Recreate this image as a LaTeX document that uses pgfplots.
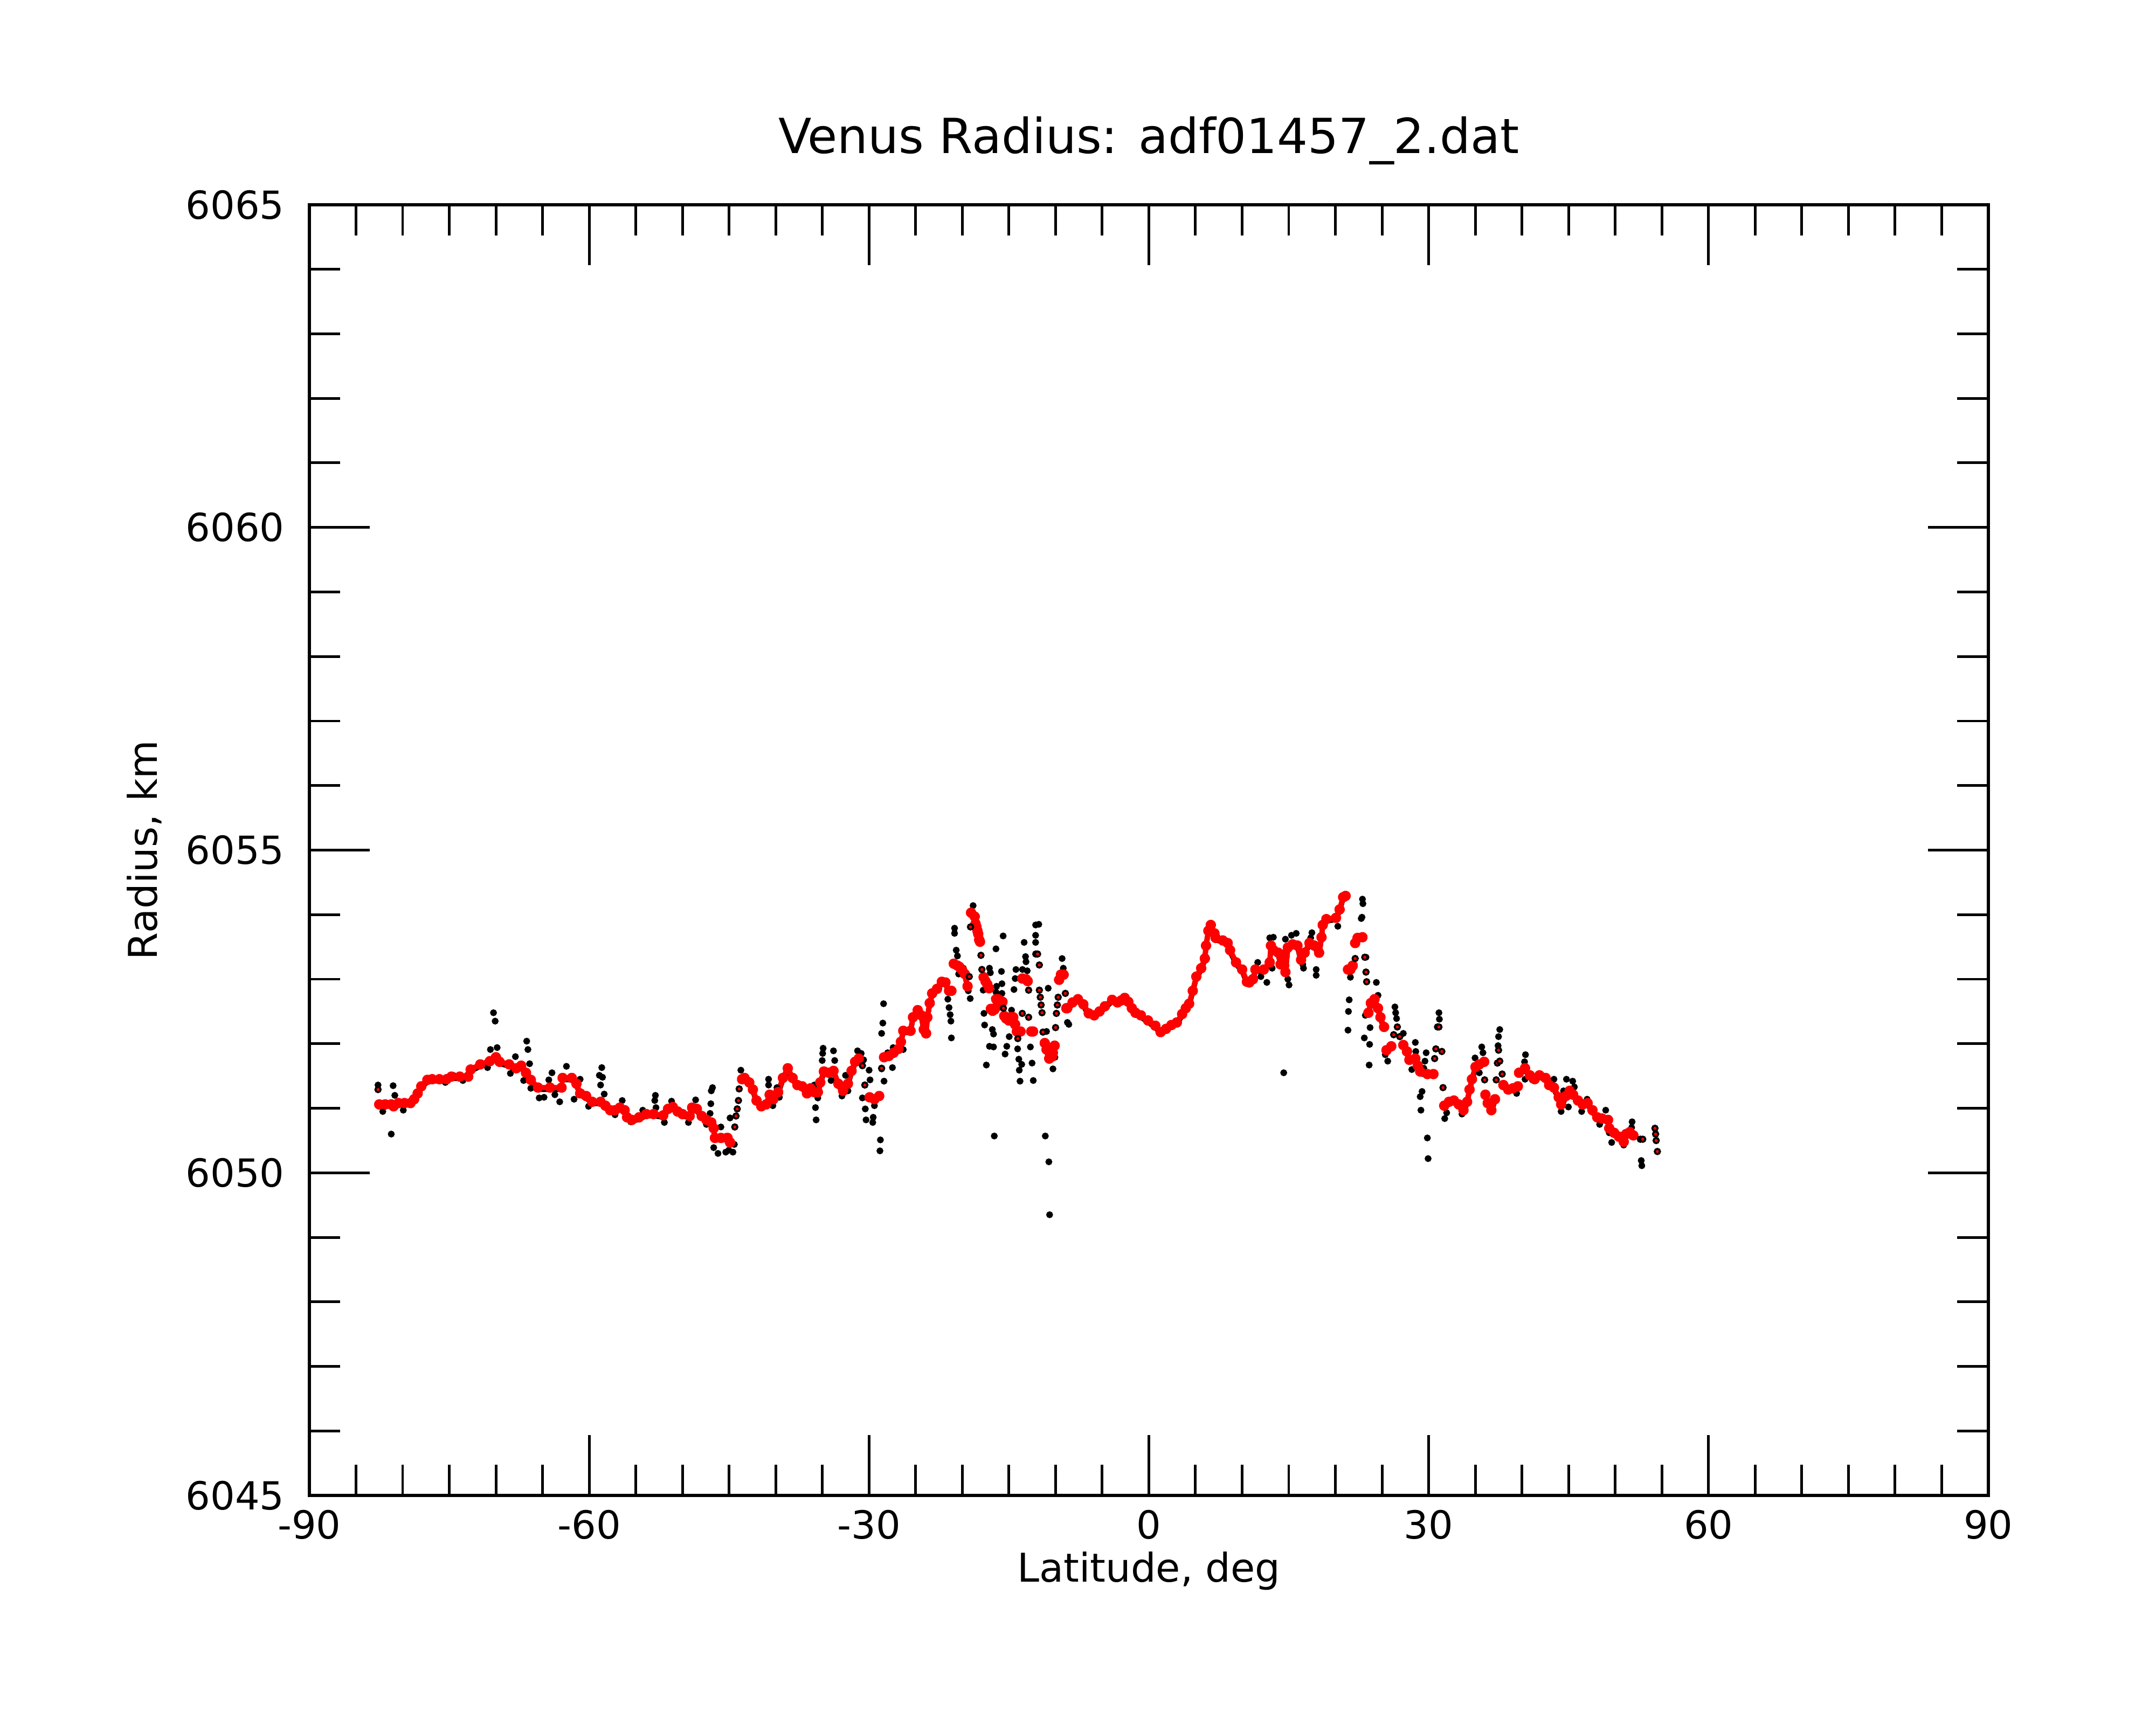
\documentclass[border=0pt]{standalone}
\usepackage{fontspec}
\setmainfont{DejaVu Sans}
\usepackage{pgfplots}
\usepackage{pgfplotstable}
\pgfplotsset{compat=1.18}

% Red series: continuous stretches (nan = gap)
\pgfplotstableread{
x y
-82.51 6051.06
-81.87 6051.06
-81.22 6051.06
-80.97 6051.03
-80.45 6051.08
-79.81 6051.08
-79.16 6051.08
-78.77 6051.14
-78.39 6051.23
-78.00 6051.34
-77.35 6051.44
-76.84 6051.45
-76.06 6051.45
-75.29 6051.45
-74.77 6051.49
-73.87 6051.49
-72.97 6051.49
-72.71 6051.60
-71.68 6051.68
-70.65 6051.73
-70.00 6051.79
-69.61 6051.72
-68.58 6051.68
-67.81 6051.62
-67.29 6051.66
-66.78 6051.55
-66.26 6051.44
-65.49 6051.32
-64.20 6051.32
-62.96 6051.32
-62.90 nan
-62.85 6051.47
-61.87 6051.47
-61.36 6051.38
-60.97 6051.23
-60.33 6051.19
-59.68 6051.10
-58.78 6051.10
-58.26 6051.04
-57.75 6050.97
-57.23 6050.97
-56.71 6051.01
-56.20 6050.97
-55.94 6050.86
-55.42 6050.82
-54.65 6050.86
-53.88 6050.91
-53.10 6050.91
-52.07 6050.89
-51.55 6050.99
-51.04 6051.02
-50.52 6050.95
-50.01 6050.91
-49.23 6050.88
-49.10 nan
-48.97 6051.01
-48.46 6050.99
-47.94 6050.88
-47.43 6050.82
-46.91 6050.78
-46.65 6050.69
-46.52 6050.54
-45.88 6050.54
-45.23 6050.54
-45.16 6050.54
-44.90 6050.47
-44.80 nan
-43.61 6051.45
-43.35 6051.47
-42.84 6051.40
-42.45 6051.29
-42.06 6051.12
-41.55 6051.03
-41.03 6051.06
-40.65 6051.21
-40.26 6051.14
-39.74 6051.25
-39.23 6051.47
-38.71 6051.62
-38.19 6051.47
-37.68 6051.36
-37.16 6051.34
-36.65 6051.23
-36.26 6051.31
-35.87 6051.25
-35.49 6051.25
-35.23 6051.40
-34.84 6051.57
-34.32 6051.55
-33.81 6051.58
-33.29 6051.38
-32.78 6051.27
-32.26 6051.38
-31.87 6051.58
-31.49 6051.72
-31.10 6051.77
-31.00 nan
-29.94 6051.17
-29.42 6051.14
-28.91 6051.19
-28.80 nan
-28.39 6051.79
-27.87 6051.81
-27.36 6051.86
-26.84 6051.92
-26.58 6052.03
-26.33 6052.20
-25.55 6052.20
-25.29 6052.41
-24.78 6052.52
-24.39 6052.44
-24.13 6052.22
-23.88 6052.16
-23.75 6052.41
-23.49 6052.63
-23.23 6052.78
-22.71 6052.85
-22.20 6052.96
-21.81 6052.95
-21.42 6052.82
-21.17 6052.82
-21.00 nan
-20.91 6053.24
-20.52 6053.21
-20.31 6053.19
-20.02 6053.14
-19.73 6053.08
-19.44 6052.89
-19.30 nan
-19.06 6054.03
-18.67 6053.97
-18.58 6053.86
-18.48 6053.81
-18.38 6053.75
-18.29 6053.70
-18.19 6053.61
-18.10 6053.58
-18.05 nan
-17.71 6053.03
-17.52 6052.97
-17.32 6052.92
-17.13 6052.86
-17.00 nan
-16.94 6052.54
-16.75 6052.51
-16.55 6052.53
-16.26 6052.58
-16.30 nan
-16.36 6052.69
-16.17 6052.69
-15.98 6052.67
-15.69 6052.65
-15.60 nan
-15.50 6052.43
-15.30 6052.39
-15.01 6052.36
-14.82 6052.41
-14.53 6052.41
-14.34 6052.30
-14.15 6052.19
-13.76 6052.19
-13.70 nan
-13.57 6053.01
-13.18 6053.00
-12.99 6052.97
-12.90 nan
-12.61 6052.19
-12.41 6052.19
-12.30 nan
-11.16 6052.01
-10.97 6051.91
-10.68 6051.77
-10.39 6051.80
-10.29 6051.86
-10.10 6051.97
-10.05 nan
-9.62 6052.99
-9.43 6053.07
-9.14 6053.07
-9.00 nan
-8.85 6052.55
-8.75 6052.55
-8.18 6052.64
-7.60 6052.69
-7.02 6052.61
-6.44 6052.47
-5.86 6052.44
-5.29 6052.50
-4.71 6052.58
-3.94 6052.68
-3.36 6052.64
-2.97 6052.67
-2.59 6052.71
-2.20 6052.65
-1.82 6052.55
-1.43 6052.48
-0.85 6052.44
-0.09 6052.36
0.69 6052.28
1.26 6052.18
1.84 6052.23
2.42 6052.29
3.00 6052.33
3.57 6052.46
3.96 6052.55
4.32 6052.62
4.71 6052.82
5.09 6053.04
5.61 6053.17
6.00 6053.32
6.13 6053.52
6.38 6053.75
6.64 6053.84
7.03 6053.71
7.16 6053.64
7.93 6053.60
8.45 6053.56
8.71 6053.45
9.35 6053.26
10.00 6053.15
10.51 6052.96
10.77 6052.95
11.16 6053.00
11.42 6053.15
12.32 6053.15
12.96 6053.26
13.09 6053.52
13.35 6053.45
13.87 6053.41
14.12 6053.23
14.38 6053.38
14.51 6053.21
14.64 6053.11
14.90 6053.49
15.41 6053.54
15.93 6053.52
16.32 6053.30
16.70 6053.41
17.22 6053.56
17.74 6053.52
18.25 6053.41
18.51 6053.65
18.64 6053.84
19.03 6053.93
20.06 6053.95
20.45 6054.08
20.83 6054.27
21.09 6054.29
21.20 nan
21.35 6053.15
21.61 6053.15
21.86 6053.21
21.95 nan
22.12 6053.56
22.38 6053.64
22.90 6053.65
23.00 nan
23.54 6052.48
23.80 6052.63
24.19 6052.69
24.57 6052.55
24.83 6052.41
25.22 6052.26
25.30 nan
25.48 6051.90
25.99 6051.96
26.10 nan
27.28 6051.98
27.67 6051.88
27.93 6051.75
28.57 6051.77
28.83 6051.66
29.09 6051.57
29.86 6051.53
30.51 6051.53
30.60 nan
31.67 6051.04
32.18 6051.10
32.70 6051.12
33.22 6051.06
33.73 6050.97
34.12 6051.10
34.38 6051.29
34.64 6051.45
35.02 6051.64
35.43 6051.68
35.95 6051.72
36.00 nan
36.08 6051.21
36.33 6051.08
36.72 6050.97
37.11 6051.14
37.20 nan
38.01 6051.36
38.53 6051.29
39.04 6051.31
39.56 6051.34
39.60 nan
39.69 6051.55
40.33 6051.62
40.85 6051.51
41.36 6051.45
41.88 6051.51
42.53 6051.47
42.91 6051.36
43.43 6051.32
43.94 6051.17
44.20 6051.06
44.72 6051.19
45.11 6051.27
45.49 6051.21
46.01 6051.12
46.52 6051.06
47.04 6051.08
47.56 6050.97
48.07 6050.86
48.59 6050.84
49.23 6050.82
49.36 6050.69
49.88 6050.62
50.39 6050.56
50.91 6050.48
51.17 6050.60
51.56 6050.63
51.94 6050.58
}\redline

% Red series: isolated points
\pgfplotstableread{
x y
-82.64 6051.29
-44.39 6050.71
-44.26 6050.88
-44.13 6050.99
-44.00 6051.12
-43.92 6051.30
-30.71 6051.66
-30.45 6051.36
-28.65 6051.62
-19.25 6053.04
-19.12 6053.81
-18.00 6053.37
-17.90 6053.15
-15.59 6052.55
-14.05 6052.08
-13.57 6052.47
-12.89 6052.41
-12.89 6052.83
-12.12 6053.39
-11.93 6053.39
-11.74 6053.22
-11.74 6052.83
-11.64 6052.72
-11.55 6052.60
-11.45 6052.48
-11.35 6052.18
-10.00 6052.25
-9.91 6052.47
-9.81 6052.60
-9.72 6052.72
-8.95 6052.78
22.12 6053.32
23.15 6053.34
23.28 6053.11
23.35 6052.96
26.25 6052.14
26.64 6052.26
26.90 6052.11
30.64 6051.77
30.77 6051.92
30.95 6052.26
31.10 6052.26
31.41 6051.88
31.54 6051.32
36.00 6051.44
37.24 6051.44
37.37 6051.70
37.49 6051.90
37.62 6051.73
37.88 6051.53
52.70 6050.52
52.95 6050.52
54.26 6050.69
54.33 6050.60
54.39 6050.50
54.52 6050.33
}\reddots

% Black series: points away from the red curve
\pgfplotstableread{
x y
-82.64 6051.36
-82.13 6050.95
-81.22 6050.60
-81.02 6051.35
-80.84 6051.20
-79.93 6050.97
-75.42 6051.40
-74.57 6051.51
-73.54 6051.43
-70.90 6051.63
-70.59 6051.91
-70.26 6052.48
-70.08 6052.35
-69.87 6051.94
-68.45 6051.54
-67.91 6051.80
-67.03 6051.43
-66.70 6052.04
-66.57 6051.91
-66.39 6051.69
-66.26 6051.31
-65.36 6051.16
-64.84 6051.17
-64.33 6051.44
-63.99 6051.55
-63.68 6051.21
-63.16 6051.10
-62.44 6051.65
-61.62 6051.14
-60.97 6051.45
-60.07 6051.03
-58.91 6051.51
-58.78 6051.36
-58.65 6051.63
-58.57 6051.48
-58.39 6051.22
-57.23 6050.90
-56.46 6051.12
-55.55 6050.79
-54.26 6050.97
-52.97 6051.12
-52.90 6051.20
-52.84 6051.01
-51.94 6050.78
-51.17 6051.11
-49.36 6050.78
-48.59 6051.13
-47.43 6050.75
-47.04 6050.92
-46.96 6051.07
-46.91 6051.27
-46.78 6051.32
-46.65 6050.39
-46.19 6050.30
-45.88 6050.71
-45.36 6050.32
-45.03 6050.35
-44.90 6050.85
-44.59 6050.32
-44.44 6050.44
-43.74 6051.59
-40.77 6051.45
-40.77 6051.36
-40.31 6051.04
-39.87 6051.32
-39.61 6051.17
-35.87 6051.36
-35.74 6051.01
-35.67 6050.82
-35.49 6051.16
-35.02 6051.74
-34.97 6051.85
-34.92 6051.93
-34.07 6051.43
-33.81 6051.89
-33.68 6051.74
-32.90 6051.19
-32.52 6051.51
-32.26 6051.27
-31.23 6051.89
-30.84 6051.85
-30.71 6051.16
-30.58 6051.75
-30.40 6050.99
-30.32 6050.82
-29.99 6051.59
-29.89 6051.44
-29.60 6050.78
-29.55 6050.86
-29.42 6051.04
-28.83 6050.34
-28.78 6050.51
-28.65 6052.16
-28.65 6051.61
-28.52 6052.32
-28.44 6052.62
-28.39 6051.42
-28.00 6051.86
-27.49 6051.63
-27.41 6051.94
-26.46 6052.20
-26.33 6051.91
-21.55 6052.69
-21.42 6052.56
-21.30 6052.45
-21.22 6052.35
-21.17 6052.09
-20.83 6053.79
-20.83 6053.71
-20.65 6053.45
-20.52 6053.36
-20.39 6053.08
-19.88 6053.17
-19.36 6052.82
-19.15 6052.70
-18.84 6054.14
-17.76 6052.83
-17.68 6052.47
-17.61 6052.29
-17.42 6051.67
-17.09 6053.17
-17.09 6051.96
-16.99 6053.10
-16.78 6052.22
-16.65 6052.15
-16.65 6051.95
-16.57 6052.70
-16.57 6050.57
-16.39 6053.47
-16.39 6052.80
-16.32 6052.89
-15.80 6053.12
-15.75 6052.93
-15.75 6052.78
-15.62 6053.67
-15.41 6051.84
-15.23 6051.96
-14.97 6052.11
-14.72 6052.52
-14.46 6052.84
-14.33 6053.01
-14.25 6053.15
-14.07 6051.92
-13.94 6051.76
-13.89 6051.59
-13.81 6051.42
-13.63 6051.68
-13.55 6053.15
-13.37 6053.57
-13.22 6053.35
-13.17 6053.27
-13.04 6053.13
-12.70 6051.95
-12.52 6051.70
-12.39 6051.43
-12.14 6053.84
-12.14 6053.68
-12.14 6053.57
-11.80 6053.85
-11.10 6050.57
-10.97 6052.19
-10.79 6052.86
-10.72 6050.17
-10.64 6049.35
-10.28 6051.61
-10.07 6051.79
-9.30 6053.32
-9.17 6053.17
-8.73 6052.33
-8.58 6052.30
11.67 6053.26
12.01 6053.04
12.65 6052.95
12.96 6053.64
13.22 6053.17
13.35 6053.65
14.46 6051.55
14.51 6053.10
14.64 6053.62
14.90 6053.00
15.03 6052.91
15.29 6053.68
15.80 6053.71
16.50 6053.23
16.58 6053.17
17.35 6053.64
17.48 6053.72
17.94 6053.15
17.94 6053.06
20.26 6053.82
21.35 6052.21
21.40 6052.50
21.48 6052.68
21.61 6053.03
22.77 6053.94
22.85 6053.96
22.90 6054.24
22.95 6054.17
23.10 6052.09
23.21 6052.44
23.28 6053.34
23.62 6051.67
23.67 6051.99
23.72 6052.25
24.39 6052.95
24.57 6052.75
25.35 6051.83
25.61 6051.73
26.38 6052.57
26.46 6052.48
26.56 6052.39
27.28 6052.16
28.19 6051.60
28.57 6052.02
28.62 6051.88
29.09 6051.18
29.17 6050.97
29.29 6051.26
29.48 6051.62
29.60 6051.73
29.73 6051.86
29.86 6050.54
29.94 6050.22
31.10 6052.48
31.15 6052.38
31.72 6050.84
31.93 6050.93
33.57 6050.91
34.97 6051.78
35.17 6051.66
35.43 6051.55
35.69 6051.95
35.82 6051.86
37.44 6051.97
37.49 6052.11
37.62 6052.22
39.43 6051.23
40.28 6051.72
40.33 6051.45
40.38 6051.83
41.11 6051.44
43.43 6051.45
44.20 6050.95
44.46 6051.27
44.77 6051.45
44.98 6051.02
45.44 6051.42
45.62 6051.33
46.40 6050.95
46.99 6051.14
48.33 6050.75
48.98 6050.97
49.36 6050.62
49.62 6050.47
50.91 6050.43
51.76 6050.70
51.81 6050.79
52.79 6050.19
52.85 6050.11
}\blackpts

\begin{document}
\begin{tikzpicture}
\begin{axis}[
  at={(0,0)}, anchor=south west,
  scale only axis,
  width=122.0mm, height=93.81mm,
  xmin=-90, xmax=90, ymin=6045, ymax=6065,
  xtick={-90,-60,-30,0,30,60,90},
  xticklabels={-90,-60,-30,0,30,60,90},
  ytick={6045,6050,6055,6060,6065},
  yticklabels={6045,6050,6055,6060,6065},
  minor x tick num=5,
  minor y tick num=4,
  tick align=inside,
  major tick length=4.4mm,
  minor tick length=2.25mm,
  every tick/.style={black, line width=0.55pt},
  axis line style={black, line width=0.6pt},
  xticklabel style={font=\fontsize{8}{9.6}\selectfont, anchor=base, inner sep=0pt, yshift=-3.15mm},
  yticklabel style={font=\fontsize{8}{9.6}\selectfont, anchor=east, inner sep=0pt, xshift=-1.75mm},
  every axis title shift=0pt,
  title={Venus Radius: adf01457\_2.dat},
  title style={at={(axis description cs:0.5,1.040)}, anchor=base, inner sep=0pt, yshift=0pt, font=\fontsize{10}{12}\selectfont},
  xlabel={Latitude, deg},
  xlabel style={at={(axis description cs:0.5,-0.0668)}, anchor=base, inner sep=0pt, font=\fontsize{8.2}{9.8}\selectfont},
  ylabel={Radius, km},
  ylabel style={at={(axis description cs:-0.0906,0.5)}, anchor=base, inner sep=0pt, font=\fontsize{8.2}{9.8}\selectfont},
  unbounded coords=jump,
  clip=true,
]
% black points
\addplot[only marks, mark=*, mark size=0.5pt, mark options={draw=none, fill=black}] table[x=x, y=y] {\blackpts};
% black points lying under the red curve
\addplot[black, line width=1.0pt, line join=round, line cap=round, yshift=-0.4pt, mark=none] table[x=x, y=y] {\redline};
% red points
\addplot[red, line width=1.1pt, line join=round, line cap=round, mark=*, mark size=0.55pt, mark options={draw=none, fill=red}] table[x=x, y=y] {\redline};
\addplot[only marks, mark=*, mark size=0.55pt, mark options={draw=none, fill=red}] table[x=x, y=y] {\reddots};
\end{axis}
\pgfresetboundingbox
\path[use as bounding box] (-22.48mm,-16.65mm) rectangle (134.18mm,108.69mm);
\end{tikzpicture}
\end{document}
